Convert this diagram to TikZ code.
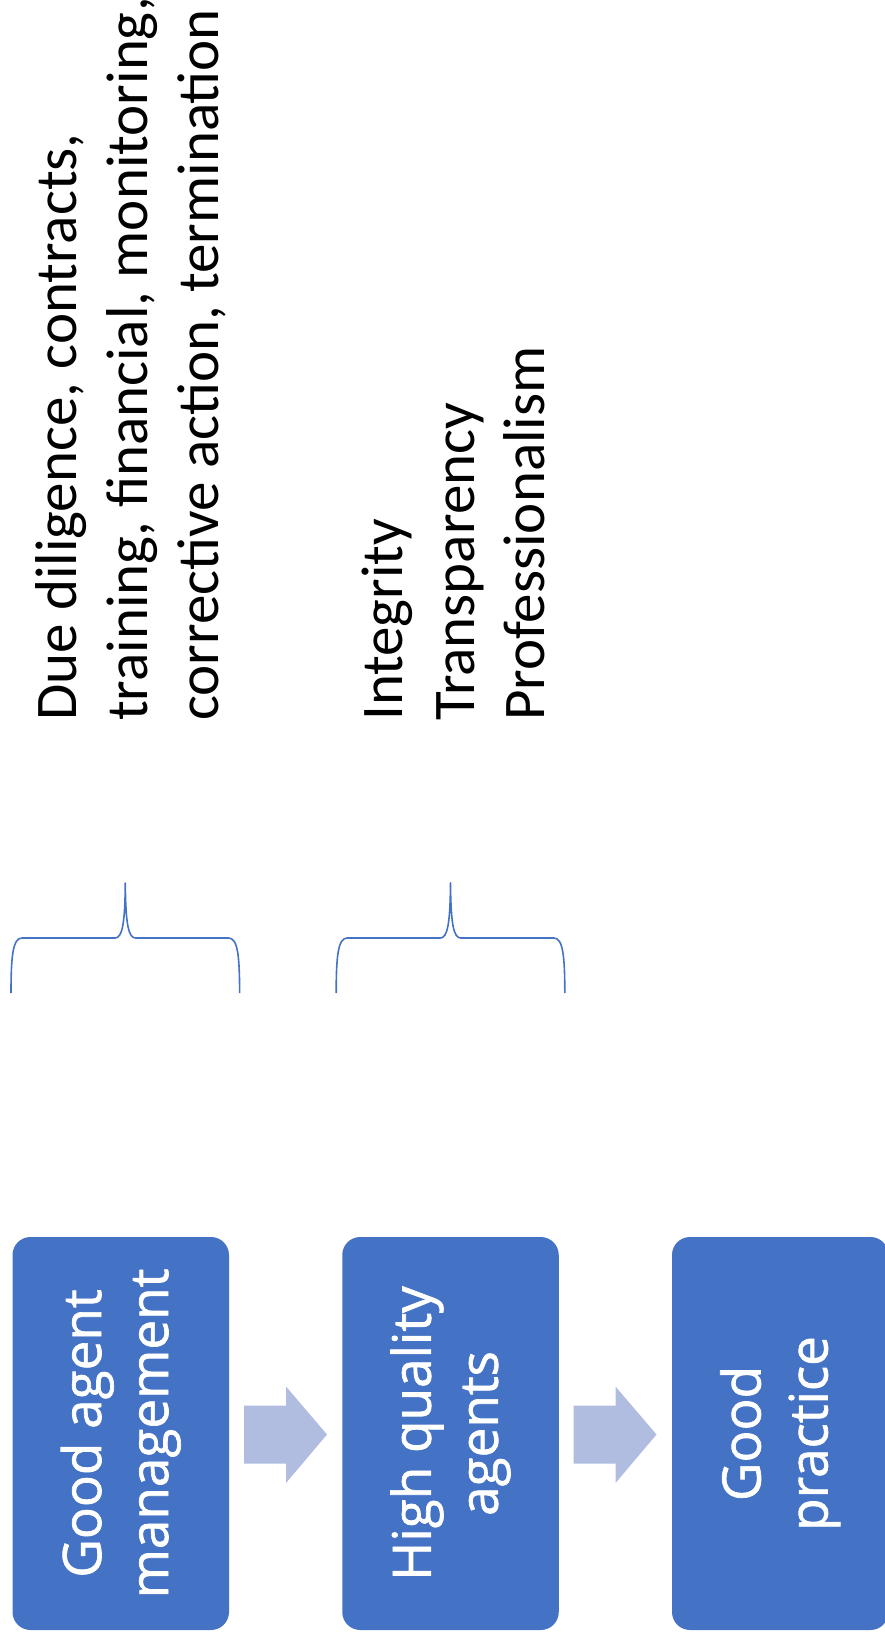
\documentclass[tikz,border=0pt]{standalone}
\usepackage{fontspec}
\usetikzlibrary{calc}
\setmainfont{Carlito}
\newfontfamily\boxfont[FakeBold=1.3]{Open Sans}
\definecolor{boxblue}{RGB}{68,114,196}
\definecolor{arrowblue}{RGB}{176,189,224}
\definecolor{braceblue}{RGB}{68,114,196}
\tikzset{
  stagebox/.style={rotate=90, rectangle, rounded corners=18pt, fill=boxblue,
    draw=none, text=white, align=center, inner sep=0pt,
    minimum width=393pt, minimum height=216.5pt,
    font=\boxfont\fontsize{53}{67}\selectfont},
  stagearrow/.style={fill=arrowblue, draw=none},
  listline/.style={rotate=90, anchor=base west, inner sep=0pt,
    font=\fontsize{59}{70}\selectfont},
  bracestyle/.style={draw=braceblue, line width=1.6pt, line join=round},
  upbrace/.pic={
    \draw[bracestyle] (-114.3,110) .. controls (-114.3,72) and (-112.3,55) .. (-103.3,55)
      -- (-10.3,55) .. controls (-3.3,55) and (-0.3,42) .. (0,0)
      .. controls (0.3,42) and (3.3,55) .. (10.3,55)
      -- (103.3,55) .. controls (112.3,55) and (114.3,72) .. (114.3,110);
  }
}
\begin{document}
\begin{tikzpicture}[x=1pt, y=-1pt]
\useasboundingbox (0,0) rectangle (884,1647);

% process stages
\node[stagebox] (s1) at (120.75,1433.5) {Good agent\\management};
\node[stagebox] (s2) at (450.5,1433.5) {High quality\\agents};
\node[stagebox] (s3) at (780.25,1433.5) {Good\\practice};

% block arrows between stages
\coordinate (a1) at (244,1434.5);
\coordinate (a2) at (573.5,1434.5);
\foreach \a in {a1,a2}{
  \fill[stagearrow] ($(\a)+(0,-29)$) -- ++(42,0) -- ++(0,-19) -- ($(\a)+(83,0)$)
    -- ($(\a)+(42,48.5)$) -- ++(0,-19.5) -- ($(\a)+(0,29)$) -- cycle;
}

% braces above the first two stages
\coordinate (b1) at (125.3,883);
\coordinate (b2) at (450.5,883);
\pic at (b1) {upbrace};
\pic at (b2) {upbrace};

% what good agent management involves
\node[listline] (m1) at (76.6,721) {Due diligence, contracts,};
\node[listline] (m2) at (147,721) {training, financial, monitoring,};
\node[listline] (m3) at (218,721) {corrective action, termination};

% qualities of high quality agents
\node[listline] (q1) at (402,721) {Integrity};
\node[listline] (q2) at (474,721) {Transparency};
\node[listline] (q3) at (544,721) {Professionalism};
\end{tikzpicture}
\end{document}
